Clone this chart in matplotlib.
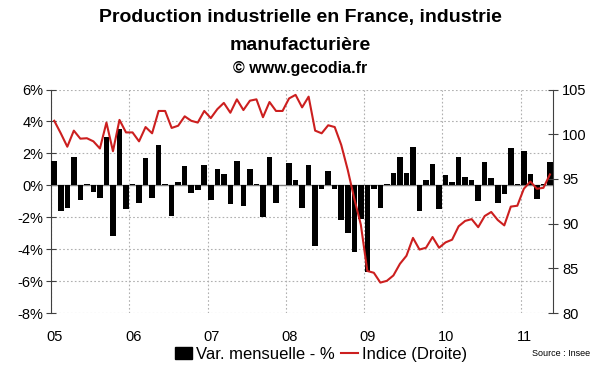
import matplotlib
matplotlib.use("Agg")
import matplotlib.pyplot as plt
import numpy as np
from matplotlib.patches import Patch
from matplotlib.lines import Line2D

plt.rcParams['font.family'] = ['Liberation Sans', 'DejaVu Sans']

years = ["05", "06", "07", "08", "09", "10", "11"]

var_mensuelle = [1.5, -1.6, -1.4, 1.8, -0.9, 0.1, -0.4, -0.8, 3.0, -3.2, 3.5, -1.5,
                 0.1, -1.1, 1.7, -0.8, 2.5, 0.05, -1.9, 0.2, 1.2, -0.5, -0.3, 1.3,
                 -0.9, 1.0, 0.7, -1.2, 1.5, -1.3, 1.0, 0.1, -2.0, 1.75, -1.1, 0.0,
                 1.4, 0.35, -1.45, 1.25, -3.8, -0.25, 0.9, -0.25, -2.2, -3.0, -4.15, -2.1,
                 -5.45, -0.25, -1.4, 0.1, 0.8, 1.8, 0.8, 2.4, -1.6, 0.3, 1.35, -1.5,
                 0.65, 0.2, 1.8, 0.55, 0.3, -1.0, 1.45, 0.45, -1.1, -0.55, 2.35, 0.1,
                 2.15, 0.7, -0.85, 0.1, 1.45]

indice = [101.5, 100.1, 98.6, 100.4, 99.5, 99.55, 99.2, 98.4, 101.3, 98.1, 101.6, 100.2,
          100.2, 99.2, 100.8, 100.1, 102.6, 102.6, 100.7, 100.95, 102.0, 101.5, 101.3, 102.6,
          101.8, 102.8, 103.5, 102.4, 103.9, 102.7, 103.75, 103.9, 101.9, 103.6, 102.6, 102.6,
          104.0, 104.4, 103.0, 104.2, 100.4, 100.1, 101.0, 100.8, 98.8, 96.0, 92.8, 89.9,
          84.7, 84.5, 83.4, 83.6, 84.2, 85.5, 86.4, 88.4, 87.1, 87.3, 88.5, 87.3,
          87.9, 88.2, 89.7, 90.3, 90.5, 89.6, 90.85, 91.3, 90.4, 89.8, 91.9, 92.0,
          93.9, 94.7, 93.9, 94.0, 95.5]

left_ticks = [6, 4, 2, 0, -2, -4, -6, -8]
right_ticks = [105, 100, 95, 90, 85, 80]

n = len(var_mensuelle)
x = np.arange(n)

fig = plt.figure(figsize=(6.0, 3.72), dpi=100)
ax = fig.add_axes([0.085, 0.1586, 0.837, 0.6008])

ax.bar(x, var_mensuelle, width=0.85, color='black', zorder=3)
ax.set_xlim(-0.5, n - 0.5)
ax.set_ylim(-8, 6)
ax.set_yticks(left_ticks)
ax.set_yticklabels([f"{t}%" for t in left_ticks], fontsize=10.5)

# grid
ax.grid(axis='y', linestyle=(0, (1.5, 2)), color='#b0b0b0', linewidth=0.8, zorder=0)
bounds = [12 * i - 0.5 for i in range(len(years))]
ax.set_xticks(bounds, minor=True)
ax.grid(axis='x', which='minor', linestyle=(0, (1.5, 2)), color='#b0b0b0', linewidth=0.8, zorder=0)
ax.set_xticks([12 * i + 0.1 for i in range(len(years))])
ax.set_xticklabels(years, fontsize=10.5)
ax.tick_params(axis='x', which='both', length=0, pad=12)
ax.axhline(0, color='#808080', linewidth=1.0, zorder=2)

for s in ['top', 'bottom']:
    ax.spines[s].set_visible(False)
ax.spines['left'].set_color('#404040')
ax.spines['right'].set_visible(False)
ax.tick_params(axis='y', direction='inout', length=7, color='#404040', pad=2)

ax2 = ax.twinx()
ax2.plot(x, indice, color='#cc1f1f', linewidth=1.5, zorder=4)
ax2.set_ylim(80, 105)
ax2.set_yticks(right_ticks)
ax2.set_yticklabels([str(t) for t in right_ticks], fontsize=10.5)
for s in ['top', 'bottom', 'left']:
    ax2.spines[s].set_visible(False)
ax2.spines['right'].set_color('#404040')
ax2.tick_params(axis='y', direction='inout', length=7, color='#404040', pad=3)

fig.text(0.5, 0.952, "Production industrielle en France, industrie", ha='center', va='center',
         fontsize=14, fontweight='bold')
fig.text(0.5, 0.878, "manufacturière", ha='center', va='center', fontsize=14, fontweight='bold')
fig.text(0.5, 0.815, "© www.gecodia.fr", ha='center', va='center', fontsize=11.5, fontweight='bold')

handles = [Patch(facecolor='black', edgecolor='black'),
           Line2D([0], [0], color='#cc1f1f', linewidth=1.5)]
fig.legend(handles, ["Var. mensuelle - %", "Indice (Droite)"], loc='center',
           bbox_to_anchor=(0.535, 0.048), ncol=2, frameon=False, fontsize=12,
           handlelength=1.0, handletextpad=0.25, columnspacing=0.4, handleheight=0.8)
fig.text(0.983, 0.05, "Source : Insee", ha='right', va='center', fontsize=6.5)

fig.savefig("out.png", dpi=100)
